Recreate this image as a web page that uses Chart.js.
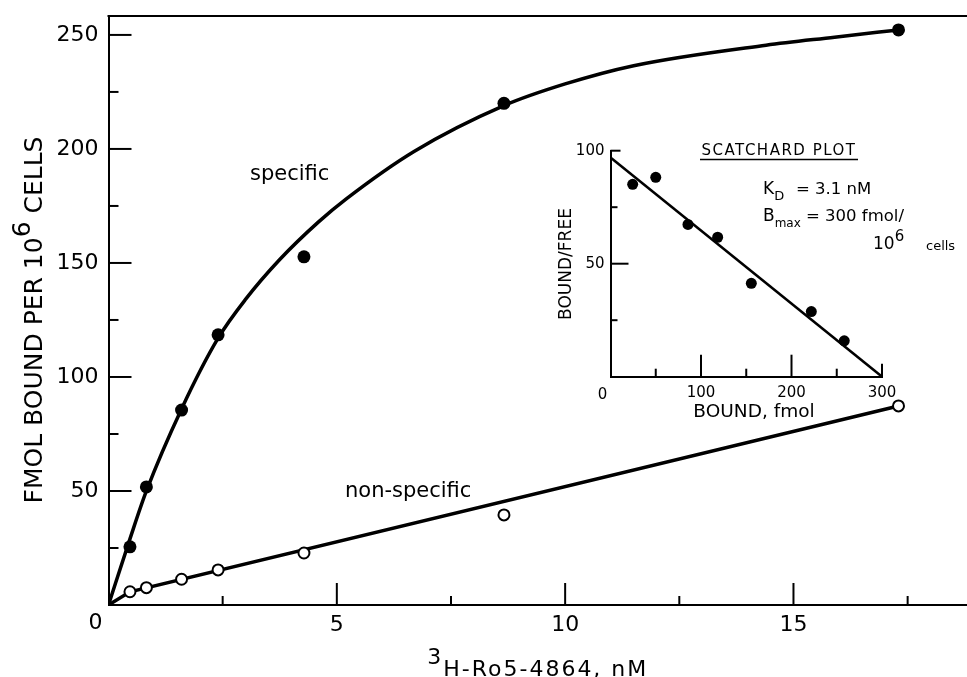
<!DOCTYPE html>
<html><head><meta charset="utf-8">
<script src="https://cdn.jsdelivr.net/npm/chart.js@4/dist/chart.umd.min.js"></script>
<style>
html,body{margin:0;padding:0;background:#fff;}
#wrap{position:relative;width:967px;height:677px;overflow:hidden;background:#fff;}
#wrap canvas{position:absolute;left:0;top:0;}
</style></head><body>
<div id="wrap"><canvas id="main" width="967" height="677"></canvas><canvas id="inset" width="967" height="677"></canvas></div>
<script>
// ---- main plot data ----
const concentrationNM = [0.47, 0.83, 1.6, 2.4, 4.28, 8.66, 17.3];
const specificBound = [25.5, 51.8, 85.5, 118.5, 152.7, 220.0, 252.2];
const nonSpecificBound = [5.8, 7.6, 11.3, 15.4, 22.8, 39.5, 87.3];
const specificCurveX = [0, 0.47, 0.83, 1.6, 2.4, 3.0, 3.75, 4.6, 5.2, 6.7, 8.66, 10.0, 11.5, 14.4, 15.9, 17.3];
const specificCurveY = [0, 29, 50, 86, 117, 134, 151.5, 168, 178, 199, 219, 228.5, 236.5, 245.5, 249, 252.2];
const nonSpecificLineX = [0, 0.47, 17.3];
const nonSpecificLineY = [0, 5.8, 87.3];
const mainXTickLabels = [5, 10, 15];
const mainYTickLabels = [50, 100, 150, 200, 250];
const mainXTickMarks = [2.5, 5, 7.5, 10, 12.5, 15, 17.5];
const mainYTickMarks = [25, 50, 75, 100, 125, 150, 175, 200, 225, 250];

// ---- Scatchard inset data ----
const scatchardBound = [24.5, 50, 85.6, 118.4, 155.6, 221.9, 258.3];
const scatchardRatio = [85.1, 88.2, 67.4, 61.7, 41.3, 28.8, 15.9];
const scatchardFitX = [0, 300];
const scatchardFitY = [97, 0];
const insetXTickLabels = [100, 200, 300];
const insetYTickLabels = [50, 100];
const insetXTickMarks = [50, 100, 150, 200, 250, 300];
const insetYTickMarks = [25, 50, 75, 100];

const FONT = 'DejaVu Sans';
const pts = (xs, ys) => xs.map((x, i) => ({x: x, y: ys[i]}));
const noPad = s => { s.paddingTop = 0; s.paddingBottom = 0; s.paddingLeft = 0; s.paddingRight = 0; };

function txt(ctx, s, x, y, size, align, baseline, spacing) {
  ctx.font = size + 'px "' + FONT + '"';
  ctx.textAlign = align || 'left';
  ctx.textBaseline = baseline || 'middle';
  ctx.letterSpacing = spacing || '0px';
  ctx.fillText(s, x, y);
  const w = ctx.measureText(s).width;
  ctx.letterSpacing = '0px';
  return w;
}

const inwardTicks = {
  id: 'inwardTicks',
  afterDatasetsDraw(chart, args, o) {
    const ctx = chart.ctx, xs = chart.scales.x, ys = chart.scales.y;
    ctx.save();
    ctx.strokeStyle = '#000'; ctx.lineWidth = o.width; ctx.lineCap = 'butt';
    o.xMarks.forEach(v => {
      const p = xs.getPixelForValue(v), len = o.xLen(v);
      ctx.beginPath(); ctx.moveTo(p, ys.bottom); ctx.lineTo(p, ys.bottom - len); ctx.stroke();
    });
    o.yMarks.forEach(v => {
      const p = ys.getPixelForValue(v), len = o.yLen(v);
      ctx.beginPath(); ctx.moveTo(xs.left, p); ctx.lineTo(xs.left + len, p); ctx.stroke();
    });
    if (o.topFrame) {
      ctx.beginPath(); ctx.moveTo(xs.left - 1, ys.top); ctx.lineTo(xs.right, ys.top); ctx.stroke();
    }
    ctx.restore();
  }
};

const mainText = {
  id: 'mainText',
  afterDraw(chart) {
    const ctx = chart.ctx, xs = chart.scales.x, ys = chart.scales.y;
    ctx.save(); ctx.fillStyle = '#000';
    txt(ctx, 'specific', 250, 175, 21);
    txt(ctx, 'non-specific', 345, 492, 21);
    txt(ctx, '0', xs.getPixelForValue(0) - 13, ys.bottom + 18, 22, 'center');
    // x title
    ctx.font = '22px "' + FONT + '"';
    const w3 = ctx.measureText('3').width;
    ctx.letterSpacing = '2px';
    const wMain = ctx.measureText('H-Ro5-4864, nM').width; ctx.letterSpacing = '0px';
    const total = w3 + 2 + wMain;
    const x0 = (xs.left + xs.right) / 2 - total / 2;
    txt(ctx, '3', x0, 664, 22, 'left', 'alphabetic');
    txt(ctx, 'H-Ro5-4864, nM', x0 + w3 + 2, 676, 22, 'left', 'alphabetic', '2px');
    // y title (rotated)
    ctx.translate(35, 320); ctx.rotate(-Math.PI / 2);
    ctx.font = '25px "' + FONT + '"';
    const a = 'FMOL BOUND PER 10', b = '6', c = ' CELLS';
    const wa = ctx.measureText(a).width, wb = ctx.measureText(b).width, wc = ctx.measureText(c).width;
    let sx = -(wa + wb + wc) / 2;
    txt(ctx, a, sx, 0, 25); sx += wa;
    txt(ctx, b, sx, -12, 25); sx += wb;
    txt(ctx, c, sx, 0, 25);
    ctx.restore();
  }
};

new Chart(document.getElementById('main'), {
  type: 'scatter',
  data: {
    datasets: [
      {data: pts(concentrationNM, specificBound), pointRadius: 6.5, pointBackgroundColor: '#000', pointBorderWidth: 0, order: 0},
      {data: pts(concentrationNM, nonSpecificBound), pointRadius: 5.5, pointBackgroundColor: '#fff', pointBorderColor: '#000', pointBorderWidth: 2, order: 0},
      {data: pts(specificCurveX, specificCurveY), showLine: true, pointRadius: 0, borderColor: '#000', borderWidth: 3.5, cubicInterpolationMode: 'monotone', order: 1},
      {data: pts(nonSpecificLineX, nonSpecificLineY), showLine: true, pointRadius: 0, borderColor: '#000', borderWidth: 3.5, order: 1}
    ]
  },
  options: {
    responsive: false, animation: false, devicePixelRatio: 1,
    layout: {autoPadding: false, padding: {top: 16, right: 0, left: 0, bottom: 0}},
    plugins: {legend: {display: false}, tooltip: {enabled: false},
      inwardTicks: {width: 2, xMarks: mainXTickMarks, yMarks: mainYTickMarks,
        xLen: v => (v % 5 === 0 ? 22 : 9), yLen: v => (v % 50 === 0 ? 23 : 10), topFrame: true}},
    scales: {
      x: {type: 'linear', min: 0, max: 18.8,
        afterBuildTicks: s => { s.ticks = mainXTickLabels.map(v => ({value: v})); },
        afterFit: s => { s.height = 72; noPad(s); },
        grid: {display: false, drawTicks: false},
        border: {display: true, color: '#000', width: 2},
        ticks: {color: '#000', padding: 7, font: {family: FONT, size: 22}}},
      y: {type: 'linear', min: 0, max: 258.3,
        afterBuildTicks: s => { s.ticks = mainYTickLabels.map(v => ({value: v})); },
        afterFit: s => { s.width = 108.5; noPad(s); },
        grid: {display: false, drawTicks: false},
        border: {display: true, color: '#000', width: 2},
        ticks: {color: '#000', padding: 10, font: {family: FONT, size: 22}}}
    }
  },
  plugins: [inwardTicks, mainText]
});

const insetText = {
  id: 'insetText',
  afterDraw(chart) {
    const ctx = chart.ctx, xs = chart.scales.x, ys = chart.scales.y;
    ctx.save(); ctx.fillStyle = '#000'; ctx.strokeStyle = '#000';
    txt(ctx, '0', xs.getPixelForValue(0) - 8, 395, 15, 'center');
    txt(ctx, 'SCATCHARD PLOT', 779, 151, 15, 'center', 'middle', '1.5px');
    ctx.lineWidth = 1.5; ctx.beginPath(); ctx.moveTo(700, 159.5); ctx.lineTo(858, 159.5); ctx.stroke();
    let x = 763;
    x += txt(ctx, 'K', x, 190, 17);
    txt(ctx, 'D', x, 197, 13);
    txt(ctx, '= 3.1 nM', 796, 190, 16.5);
    x = 763;
    x += txt(ctx, 'B', x, 217, 17);
    x += txt(ctx, 'max', x, 224, 12);
    txt(ctx, ' = 300 fmol/', x, 217, 16.5);
    x = 873;
    x += txt(ctx, '10', x, 245, 17);
    txt(ctx, '6', x, 237, 15);
    txt(ctx, 'cells', 926, 247, 13);
    txt(ctx, 'BOUND, fmol', 754, 412, 18.5, 'center');
    ctx.translate(567, 264); ctx.rotate(-Math.PI / 2);
    txt(ctx, 'BOUND/FREE', 0, 0, 17, 'center');
    ctx.restore();
  }
};

new Chart(document.getElementById('inset'), {
  type: 'scatter',
  data: {
    datasets: [
      {data: pts(scatchardBound, scatchardRatio), pointRadius: 5.5, pointBackgroundColor: '#000', pointBorderWidth: 0, order: 0},
      {data: pts(scatchardFitX, scatchardFitY), showLine: true, pointRadius: 0, borderColor: '#000', borderWidth: 2.5, order: 1}
    ]
  },
  options: {
    responsive: false, animation: false, devicePixelRatio: 1,
    layout: {autoPadding: false, padding: {top: 150.7, right: 85, left: 540, bottom: 260.3}},
    plugins: {legend: {display: false}, tooltip: {enabled: false},
      inwardTicks: {width: 2, xMarks: insetXTickMarks, yMarks: insetYTickMarks,
        xLen: v => (v === 300 ? 13 : (v % 100 === 0 ? 22 : 8)),
        yLen: v => (v === 100 ? 10 : (v === 50 ? 18 : 7)), topFrame: false}},
    scales: {
      x: {type: 'linear', min: 0, max: 300,
        afterBuildTicks: s => { s.ticks = insetXTickLabels.map(v => ({value: v})); },
        afterFit: s => { s.height = 40; noPad(s); },
        grid: {display: false, drawTicks: false},
        border: {display: true, color: '#000', width: 2},
        ticks: {color: '#000', padding: 7, font: {family: FONT, size: 15}}},
      y: {type: 'linear', min: 0, max: 100,
        afterBuildTicks: s => { s.ticks = insetYTickLabels.map(v => ({value: v})); },
        afterFit: s => { s.width = 70.5; noPad(s); },
        grid: {display: false, drawTicks: false},
        border: {display: true, color: '#000', width: 2},
        ticks: {color: '#000', padding: 6, font: {family: FONT, size: 15}}}
    }
  },
  plugins: [inwardTicks, insetText]
});
</script>
</body></html>
